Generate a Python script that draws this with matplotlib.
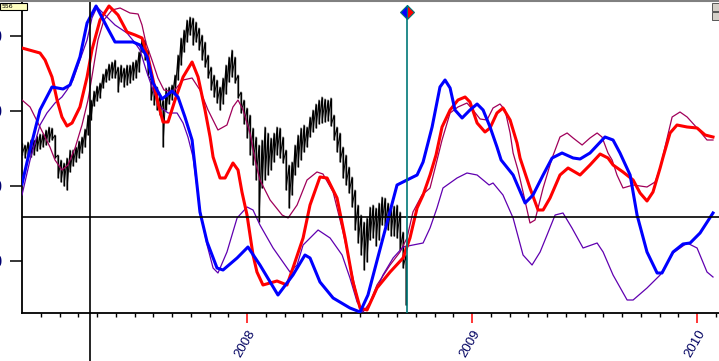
import numpy as np
import matplotlib
matplotlib.use("Agg")
import matplotlib.pyplot as plt
from matplotlib.patches import Rectangle
from matplotlib.lines import Line2D

# x is months since Jan 2007, y is in chart units (0 = the horizontal reference line)
year_pos = [12, 24, 36]
year_labels = ['2008', '2009', '2010']
ytick_pos = [181, 106, 31, -44]
ytick_labels = ['1500', '1400', '1300', '1200']

# daily price bars (high / low), evenly spaced from Jan 2007 to mid Sep 2008
bar_hi = [74, 72, 75, 77, 77, 81, 83, 83, 87, 90, 89, 82, 62, 57, 54, 59, 67, 67, 70, 76,
          80, 88, 102, 117, 126, 131, 134, 143, 148, 153, 155, 157, 150, 152, 149, 152, 152, 155, 157, 165,
          179, 177, 167, 137, 132, 130, 122, 117, 129, 130, 132, 142, 162, 179, 187, 197, 200, 199, 195, 189,
          182, 175, 162, 150, 142, 137, 130, 139, 152, 160, 167, 160, 142, 125, 117, 109, 102, 89, 80, 72,
          77, 90, 84, 79, 84, 90, 89, 80, 67, 52, 55, 72, 82, 89, 92, 90, 100, 107, 113, 117,
          120, 118, 117, 119, 102, 90, 84, 70, 62, 50, 40, 27, 12, 2, -5, -1, 10, 12, 9, 14,
          20, 19, 14, 10, 11, 12, 5, -15, -38]
bar_lo = [62, 59, 60, 60, 62, 66, 68, 70, 72, 75, 77, 59, 39, 35, 31, 27, 45, 51, 55, 59,
          64, 70, 82, 97, 111, 116, 119, 129, 135, 137, 139, 139, 125, 135, 130, 132, 134, 137, 139, 145,
          165, 157, 142, 117, 112, 107, 102, 70, 107, 113, 117, 122, 137, 152, 165, 175, 182, 172, 175, 167,
          157, 150, 139, 127, 120, 114, 107, 113, 123, 135, 140, 134, 119, 104, 93, 79, 62, 52, 37, -5,
          29, 37, 42, 47, 55, 62, 59, 54, 27, 9, 22, 42, 50, 57, 65, 70, 80, 85, 89, 93,
          94, 95, 96, 91, 77, 65, 55, 39, 32, 24, 10, -13, -26, -38, -53, -45, -23, -21, -29, -23,
          -8, -9, -13, -19, -19, -21, -33, -51, -88]

blue_m = [0.00, 0.32, 0.96, 1.60, 2.19, 2.56, 3.09, 3.47, 3.95, 4.53, 4.96, 5.92, 6.29, 6.67, 6.99,
          7.47, 8.00, 8.32, 8.69, 9.07, 9.49, 9.87, 10.40, 10.72, 11.47, 12.05, 12.69, 13.65, 14.45,
          15.09, 15.36, 15.89, 16.59, 17.49, 18.03, 18.45, 19.25, 20.00, 20.53, 21.07, 21.39, 21.87,
          22.29, 22.56, 22.83, 23.09, 23.47, 23.89, 24.27, 24.59, 24.96, 25.33, 25.55, 26.19, 26.83,
          27.25, 27.79, 28.27, 28.80, 29.39, 29.76, 30.29, 31.09, 31.52, 31.89, 32.43, 32.80, 33.33,
          33.87, 34.13, 34.72, 35.25, 35.63, 36.16, 36.85]
blue_v = [33, 59, 107, 130, 128, 132, 160, 194, 211, 190, 175, 175, 172, 160, 134,
          118, 126, 120, 100, 77, 5, -25, -51, -53, -41, -30, -48, -78, -58,
          -38, -41, -65, -81, -91, -95, -78, -21, 32, 37, 42, 55, 90,
          130, 137, 129, 107, 99, 107, 113, 107, 90, 70, 57, 42, 14,
          22, 42, 59, 64, 59, 58, 64, 80, 77, 64, 42, 2, -35,
          -56, -56, -35, -27, -26, -16, 4]

red_m = [0.00, 0.96, 1.23, 1.60, 1.87, 2.13, 2.40, 2.67, 3.09, 3.47, 3.73, 4.16, 4.64, 5.12, 5.60,
         6.03, 6.40, 6.72, 6.99, 7.25, 7.52, 7.79, 8.16, 8.59, 9.07, 9.39, 9.76, 10.03, 10.19, 10.56,
         10.83, 11.25, 11.52, 11.73, 12.00, 12.16, 12.32, 12.53, 12.85, 13.60, 14.13, 14.45, 14.99,
         15.36, 15.89, 16.27, 16.80, 17.23, 17.65, 18.03, 18.40, 18.93, 19.63, 20.32, 20.69, 21.07,
         21.39, 21.76, 22.08, 22.40, 22.83, 23.25, 23.63, 23.89, 24.27, 24.69, 24.96, 25.33, 25.65,
         26.03, 26.40, 26.56, 27.09, 27.52, 27.79, 28.16, 28.69, 29.12, 29.76, 30.29, 30.83, 31.25,
         31.52, 32.05, 32.59, 32.96, 33.33, 33.65, 34.03, 34.19, 34.56, 34.93, 35.47, 36.00, 36.43, 36.85]
red_v = [169, 164, 157, 140, 117, 100, 91, 94, 110, 140, 167, 197, 211, 202, 185,
         182, 179, 160, 137, 114, 95, 95, 117, 140, 155, 140, 107, 80, 60, 39,
         39, 54, 47, 25, 2, -18, -38, -55, -68, -64, -68, -51, -21,
         12, 40, 39, 19, -21, -65, -91, -93, -71, -55, -41, -21, 9,
         22, 42, 62, 90, 107, 117, 120, 115, 94, 85, 89, 104, 109,
         97, 74, 59, 29, 7, 7, 19, 42, 49, 42, 52, 63, 59,
         52, 45, 37, 24, 16, 25, 49, 60, 84, 92, 90, 89, 82, 80]

magenta_m = [0.00, 0.43, 0.96, 1.49, 1.76, 2.13, 2.45, 2.83, 3.20, 3.52, 3.79, 4.05, 4.37, 4.80, 5.23,
             5.76, 6.19, 6.40, 6.61, 6.93, 7.25, 7.57, 8.05, 8.59, 9.07, 9.49, 9.92, 10.45, 10.93,
             11.25, 11.52, 11.79, 12.16, 12.43, 12.69, 13.23, 13.87, 14.19, 14.67, 15.20, 15.73, 16.05,
             16.59, 17.12, 17.65, 18.03, 18.40, 18.93, 19.63, 20.16, 20.53, 20.85, 21.33, 21.76, 22.03,
             22.40, 22.83, 23.25, 23.73, 24.05, 24.43, 24.80, 25.12, 25.49, 25.76, 26.03, 26.19, 26.45,
             26.72, 27.09, 27.36, 27.79, 28.27, 28.69, 29.07, 29.39, 29.87, 30.29, 30.67, 30.93, 31.25,
             31.47, 31.73, 32.05, 32.59, 33.33, 33.76, 34.03, 34.29, 34.67, 35.09, 35.47, 36.00, 36.53, 36.85]
magenta_v = [117, 110, 90, 70, 57, 47, 52, 69, 92, 117, 147, 177, 197, 207, 209,
             204, 203, 192, 174, 157, 139, 127, 125, 137, 139, 127, 107, 87, 92,
             110, 117, 107, 84, 57, 37, 17, 2, -1, 12, 37, 45, 43,
             25, -15, -61, -93, -93, -68, -48, -35, -21, 5, 22, 29, 49,
             77, 104, 110, 114, 107, 98, 97, 109, 113, 107, 84, 64, 47,
             25, -6, -3, 29, 59, 80, 84, 79, 72, 79, 84, 80, 64,
             57, 42, 29, 32, 30, 35, 49, 70, 100, 105, 100, 89, 77, 77]

violet_m = [0.00, 0.43, 0.96, 1.33, 1.76, 2.13, 2.40, 2.72, 3.09, 3.47, 3.73, 4.00, 4.53, 4.96, 5.60,
            6.03, 6.29, 6.67, 6.99, 7.36, 7.79, 8.27, 8.59, 8.85, 9.12, 9.49, 9.87, 10.19, 10.45,
            10.93, 11.47, 12.00, 12.32, 12.69, 13.39, 14.29, 14.67, 14.99, 15.79, 16.43, 17.07, 17.49,
            17.87, 18.19, 18.72, 19.25, 19.79, 20.32, 20.85, 21.39, 21.76, 22.13, 22.45, 23.20, 23.73,
            24.27, 24.91, 25.12, 25.65, 26.19, 26.72, 27.20, 27.63, 28.00, 28.43, 28.85, 29.33, 29.92,
            30.67, 30.99, 31.52, 32.27, 32.59, 33.33, 34.03, 34.72, 35.47, 36.00, 36.53, 36.85]
violet_v = [22, 57, 92, 104, 114, 120, 127, 137, 157, 177, 199, 210, 200, 192, 184,
            174, 167, 144, 127, 110, 104, 104, 94, 80, 60, 7, -28, -51, -56,
            -35, -1, 10, 7, -8, -31, -55, -48, -28, -13, -21, -38, -61,
            -85, -95, -81, -58, -41, -30, -28, -26, -11, 9, 29, 39, 44,
            42, 32, 34, 22, -1, -38, -48, -35, -18, 2, 4, -11, -31,
            -26, -35, -58, -83, -83, -71, -58, -36, -26, -31, -55, -60]

cursor_m = 3.63
marker_m = 20.53
marker_v = 205

fig = plt.figure(figsize=(7.19, 3.61), dpi=100)
ax = fig.add_axes([22 / 719, 48 / 361, 697 / 719, 311 / 361])
ax.set_xlim(0, 37.17)
ax.set_ylim(-96, 215)

# price bars: a vertical stroke per bar, joined low -> next high for the ragged look
bar_x = np.linspace(0, 20.48, len(bar_hi))
ax.vlines(bar_x, bar_lo, bar_hi, color='black', lw=1.0, zorder=2)
ax.plot(np.repeat(bar_x, 2), np.column_stack([bar_hi, bar_lo]).ravel(), color='black', lw=0.7, zorder=2)

ax.plot(magenta_m, magenta_v, color='#a0005a', lw=0.9, zorder=3)
ax.plot(violet_m, violet_v, color='#6000b0', lw=0.9, zorder=3)
ax.plot(red_m, red_v, color='#ff0000', lw=2.2, zorder=4)
ax.plot(blue_m, blue_v, color='#0000ff', lw=2.2, zorder=5)

ax.axhline(0, color='black', lw=1.2, zorder=6)
ax.axvline(cursor_m, ymin=-0.16, ymax=1, color='black', lw=1.2, clip_on=False, zorder=6)
ax.axvline(marker_m, ymin=0, ymax=0.97, color='#007878', lw=1.2, zorder=6)
ax.plot([marker_m], [marker_v], marker='D', ms=7, fillstyle='left', markerfacecolor='#0000ff',
        markerfacecoloralt='#ff0000', markeredgecolor='#007878', markeredgewidth=0.8, zorder=7,
        clip_on=False)

for side in ['top', 'right']:
    ax.spines[side].set_visible(False)
for side in ['left', 'bottom']:
    ax.spines[side].set_linewidth(1.3)

ax.set_yticks(ytick_pos)
ax.set_yticklabels(ytick_labels, fontsize=12, color='#000070', family='Liberation Sans')
ax.tick_params(axis='y', length=8.6, width=1.1, pad=5)

ax.set_xticks(np.arange(1, 38), minor=True)
ax.set_xticks(year_pos)
ax.set_xticklabels([])
ax.tick_params(axis='x', which='major', length=7.2, width=1.1, color='red')
ax.tick_params(axis='x', which='minor', length=3, width=1.0, color='black')
for pos, lab in zip(year_pos, year_labels):
    ax.annotate(lab, xy=(pos, 0), xycoords=('data', 'axes fraction'), xytext=(5, -18),
                textcoords='offset pixels', ha='right', va='center', rotation=60,
                rotation_mode='anchor', fontsize=9.5, color='#000060', family='Liberation Sans')

# window decorations: top border, small caption box, scroll buttons
fig.add_artist(Line2D([0, 1], [1 - 1 / 361, 1 - 1 / 361], transform=fig.transFigure, color='#808080', lw=1.5))
fig.add_artist(Rectangle((0, 1 - 10 / 361), 27 / 719, 7 / 361, transform=fig.transFigure,
                         facecolor='#ffffc0', edgecolor='black', lw=0.8))
fig.text(2 / 719, 1 - 6.5 / 361, '556', fontsize=4.5, va='center', ha='left')
for i in range(2):
    fig.add_artist(Rectangle((712 / 719, 1 - (11 + 9 * i) / 361), 7 / 719, 8 / 361,
                             transform=fig.transFigure, facecolor='#d4d0c8', edgecolor='#404040', lw=0.6))

fig.savefig('out.png', dpi=100)
